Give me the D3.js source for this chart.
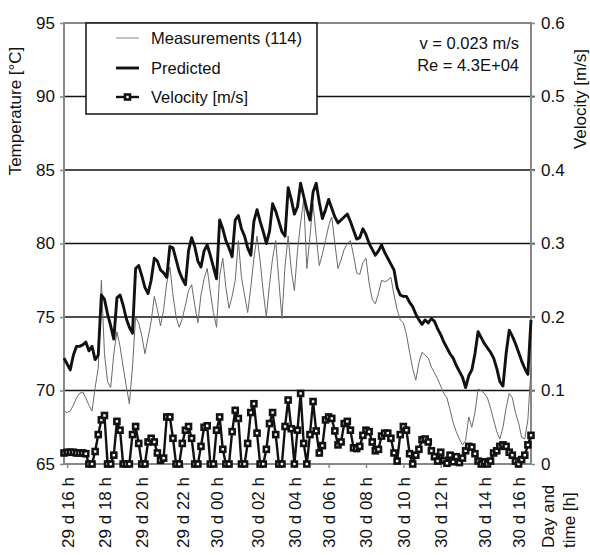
<!DOCTYPE html>
<html><head><meta charset="utf-8">
<script src="https://cdn.jsdelivr.net/npm/d3@7"></script>
<style>body{margin:0;background:#fff}svg text{font-family:"Liberation Sans",Arial,sans-serif;fill:#111}</style>
</head><body><svg id="c" width="590" height="555"></svg>
<script>
// Measured temperature (sensor 114), degC
const measured = [
68.6,68.5,68.6,69.0,69.5,69.8,69.9,69.5,69.0,68.6,
70.2,71.5,77.5,72.5,70.6,70.2,72.5,74.0,73.0,71.6,
70.3,69.1,71.6,75.0,74.6,73.7,72.5,73.6,74.7,76.4,
75.5,74.4,75.5,77.3,78.4,76.5,75.0,74.3,74.9,75.8,
76.8,77.2,75.8,74.6,76.5,77.6,78.3,76.7,75.3,74.3,
77.8,79.0,77.0,75.6,76.4,77.5,80.2,77.7,76.5,75.3,
77.0,79.0,80.5,78.8,76.7,75.0,77.2,79.0,80.2,77.5,
74.9,78.5,80.5,78.2,76.8,79.5,81.4,83.0,78.3,80.5,
82.7,80.5,78.5,79.3,80.2,81.2,81.8,80.0,78.3,78.9,
79.6,80.0,80.2,79.2,78.0,77.9,78.7,79.0,77.3,76.2,
75.9,76.6,77.5,77.4,77.5,77.7,76.5,75.5,74.8,74.6,
73.8,72.6,71.5,70.7,71.9,72.6,72.4,72.2,71.6,71.2,
70.8,70.3,69.8,69.5,68.7,67.8,67.2,66.7,66.3,66.6,
68.2,67.5,68.5,70.1,70.0,69.8,69.5,68.8,68.0,67.2,
66.7,67.5,68.8,69.8,69.5,68.5,67.8,66.8,66.7,68.0,
71.5];
// Predicted temperature, degC
const predicted = [
72.2,71.8,71.4,72.4,73.0,73.0,73.1,73.3,72.7,73.0,
72.1,72.4,76.5,76.2,75.2,74.4,73.5,76.3,76.5,75.8,
74.9,74.3,73.9,78.3,78.5,77.8,77.0,76.6,77.5,79.0,
78.8,78.2,78.0,77.7,79.8,79.7,78.9,78.1,77.6,77.2,
79.5,80.4,79.8,78.8,78.4,79.5,79.9,79.2,78.4,77.6,
81.6,81.0,80.2,79.7,79.1,81.6,81.9,81.0,80.5,79.7,
79.2,81.5,82.3,81.5,80.8,80.0,80.8,82.7,82.2,81.5,
80.8,80.5,83.8,83.0,82.0,82.5,84.1,83.2,82.3,81.6,
83.5,84.1,82.8,81.7,82.3,83.0,82.4,81.8,81.4,81.6,
81.8,82.0,81.5,80.9,80.3,80.4,81.0,80.6,80.0,79.6,
79.2,79.5,79.9,79.4,79.0,78.6,78.2,77.0,76.5,76.4,
76.4,76.0,75.7,75.2,74.8,74.5,74.8,74.6,74.9,74.7,
74.2,73.8,73.3,72.9,72.5,72.2,71.7,71.3,70.9,70.2,
71.0,71.4,72.5,74.0,73.6,73.2,72.9,72.6,72.2,71.5,
70.6,70.3,72.5,74.1,73.7,73.2,72.6,72.0,71.5,71.1,
74.8];
// Velocity, m/s
const velocity = [
0.015,0.016,0.016,0.016,0.015,0.015,0.015,0.014,0.0,0.0,
0.017,0.040,0.060,0.066,0.0,0.0,0.012,0.058,0.046,0.0,
0.0,0.0,0.040,0.051,0.028,0.0,0.0,0.030,0.035,0.030,
0.015,0.005,0.008,0.064,0.064,0.035,0.0,0.0,0.028,0.046,
0.051,0.035,0.0,0.0,0.024,0.050,0.052,0.0,0.0,0.046,
0.064,0.020,0.0,0.0,0.044,0.073,0.062,0.0,0.0,0.028,
0.070,0.082,0.042,0.0,0.0,0.020,0.055,0.070,0.040,0.0,
0.0,0.051,0.087,0.048,0.0,0.046,0.096,0.028,0.0,0.040,
0.085,0.045,0.015,0.025,0.060,0.064,0.062,0.045,0.026,0.030,
0.055,0.058,0.046,0.022,0.021,0.024,0.039,0.046,0.044,0.030,
0.018,0.020,0.038,0.042,0.042,0.035,0.015,0.004,0.040,0.051,
0.046,0.014,0.0,0.012,0.020,0.033,0.034,0.030,0.018,0.010,
0.004,0.016,0.005,0.001,0.012,0.003,0.010,0.002,0.008,0.018,
0.024,0.023,0.014,0.004,0.0,0.003,0.0,0.004,0.015,0.018,
0.024,0.026,0.024,0.016,0.012,0.004,0.0,0.006,0.012,0.026,
0.039];
const tickIndex = [1,13,25,38,49,62,74,85,97,109,121,135,146];
const tickLabels = ["29 d 16 h","29 d 18 h","29 d 20 h","29 d 22 h","30 d 00 h","30 d 02 h","30 d 04 h","30 d 06 h","30 d 08 h","30 d 10 h","30 d 12 h","30 d 14 h","30 d 16 h"];
const tempTicks = [65,70,75,80,85,90,95];
const velTicks = [0,0.1,0.2,0.3,0.4,0.5,0.6];
const legendLabels = ["Measurements (114)","Predicted","Velocity [m/s]"];
const noteLines = ["v = 0.023 m/s","Re = 4.3E+04"];

const svg = d3.select("#c");
const L=64, R=531, T=23, B=464;
const x = d3.scaleLinear().domain([0, measured.length-1]).range([L, R]);
const yT = d3.scaleLinear().domain([65,95]).range([B, T]);
const yV = d3.scaleLinear().domain([0,0.6]).range([B, T]);

// grid lines
svg.append("g").selectAll("line").data(tempTicks.filter(d=>d>65&&d<95)).join("line")
  .attr("x1",L).attr("x2",R+4).attr("y1",d=>yT(d)).attr("y2",d=>yT(d))
  .attr("stroke","#111").attr("stroke-width",1.5);

// frame
svg.append("rect").attr("x",L).attr("y",T).attr("width",R-L).attr("height",B-T)
  .attr("fill","none").attr("stroke","#888").attr("stroke-width",2);

// axes
const fmtV = d3.format(".1f");
const gl = svg.append("g").attr("transform",`translate(${L},0)`)
  .call(d3.axisLeft(yT).tickValues(tempTicks).tickSize(4).tickSizeOuter(0).tickPadding(5).tickFormat(d3.format("d")));
const gr = svg.append("g").attr("transform",`translate(${R},0)`)
  .call(d3.axisRight(yV).tickValues(velTicks).tickSize(4).tickSizeOuter(0).tickPadding(6).tickFormat(d=>d===0?"0":fmtV(d)));
const gb = svg.append("g").attr("transform",`translate(0,${B})`)
  .call(d3.axisBottom(x).tickValues(tickIndex).tickSize(4).tickSizeOuter(0).tickFormat((d,i)=>tickLabels[i]));
[gl,gr,gb].forEach(g=>{
  g.select(".domain").remove();
  g.selectAll("line").attr("stroke","#888").attr("stroke-width",1.5);
  g.selectAll("text").style("font-size","17px").attr("fill","#111");
});
gb.selectAll("text").attr("transform","rotate(-90)").attr("text-anchor","end")
  .attr("x",-13).attr("y",6).attr("dy","0");

// axis titles
svg.append("text").attr("transform","translate(21,111) rotate(-90)").attr("text-anchor","middle")
  .style("font-size","17px").text("Temperature [°C]");
svg.append("text").attr("transform","translate(586,99) rotate(-90)").attr("text-anchor","middle")
  .style("font-size","17px").text("Velocity [m/s]");
svg.append("text").attr("transform","translate(554,548) rotate(-90)").attr("text-anchor","start")
  .style("font-size","17px").text("Day and");
svg.append("text").attr("transform","translate(575,548) rotate(-90)").attr("text-anchor","start")
  .style("font-size","17px").text("time [h]");

// series
const idx = d3.range(measured.length);
svg.append("path").datum(idx)
  .attr("d", d3.line().x(i=>x(i)).y(i=>yT(measured[i])))
  .attr("fill","none").attr("stroke","#6a6a6a").attr("stroke-width",1);
svg.append("path").datum(idx)
  .attr("d", d3.line().x(i=>x(i)).y(i=>yT(predicted[i])))
  .attr("fill","none").attr("stroke","#111").attr("stroke-width",2.9).attr("stroke-linejoin","round");
svg.append("path").datum(idx)
  .attr("d", d3.line().x(i=>x(i)).y(i=>yV(velocity[i])))
  .attr("fill","none").attr("stroke","#111").attr("stroke-width",2.4);
svg.append("g").selectAll("rect").data(idx).join("rect")
  .attr("x",i=>x(i)-2.5).attr("y",i=>yV(velocity[i])-2.5).attr("width",5).attr("height",5)
  .attr("fill","#fff").attr("stroke","#111").attr("stroke-width",2.6);

// legend
const lg = svg.append("g");
lg.append("rect").attr("x",86).attr("y",T).attr("width",231).attr("height",91)
  .attr("fill","#fff").attr("stroke","#111").attr("stroke-width",1.5);
const rowY = [38,68,97];
legendLabels.forEach((lab,k)=>{
  const y = rowY[k];
  lg.append("line").attr("x1",116).attr("x2",139).attr("y1",y).attr("y2",y)
    .attr("stroke",k===0?"#888":"#111").attr("stroke-width",k===0?1:(k===1?2.9:2.4));
  if(k===2) lg.append("rect").attr("x",125).attr("y",y-2.5).attr("width",5).attr("height",5)
    .attr("fill","#fff").attr("stroke","#111").attr("stroke-width",2.6);
  lg.append("text").attr("x",151).attr("y",y).attr("dy","0.35em").style("font-size","16.5px").text(lab);
});

// note
noteLines.forEach((t,k)=>{
  svg.append("text").attr("x",519).attr("y",43+k*22).attr("dy","0.35em").attr("text-anchor","end")
    .style("font-size","16.5px").text(t);
});
</script></body></html>
